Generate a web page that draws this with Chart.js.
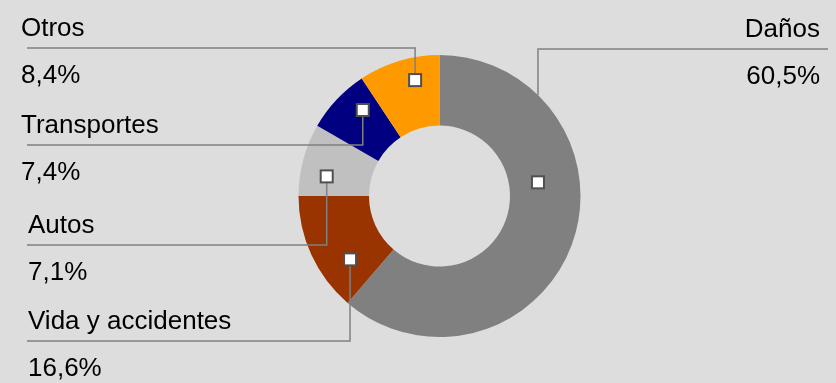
<!DOCTYPE html>
<html>
<head>
<meta charset="utf-8">
<script src="https://cdn.jsdelivr.net/npm/chart.js@4.4.1/dist/chart.umd.min.js"></script>
<style>
  html, body { margin: 0; padding: 0; background: #dddddd; }
  #wrap { width: 836px; height: 383px; }
</style>
</head>
<body>
<div id="wrap"><canvas id="ramosChart" width="836" height="383"></canvas></div>
<script>
// slice order: clockwise from 12 o'clock
const categories = ['Daños', 'Vida y accidentes', 'Autos', 'Transportes', 'Otros'];
// shares as drawn in the picture (measured from slice angles)
const shares = [61.3, 13.7, 8.3, 7.4, 9.3];
// percentages as printed next to each category
const shareLabels = ['60,5%', '16,6%', '7,1%', '7,4%', '8,4%'];
const colors = ['#808080', '#993300', '#c0c0c0', '#000080', '#ff9900'];

// callout layout: where the marker sits inside its slice, and where the label goes
const callouts = [
  { angle: 0.372, radius: 0.41,  lineY: 49,  side: 'right', textX: 820, toEdge: true },
  { angle: 0.284, radius: 0.555, lineY: 341, side: 'left',  textX: 28 },
  { angle: 0.33,  radius: 0.624, lineY: 245, side: 'left',  textX: 28 },
  { angle: 0.69,  radius: 0.635, lineY: 145, side: 'left',  textX: 21 },
  { angle: 0.645, radius: 0.68,  lineY: 48,  side: 'left',  textX: 21 }
];

const calloutPlugin = {
  id: 'callouts',
  afterDraw(chart) {
    const ctx = chart.ctx;
    const arcs = chart.getDatasetMeta(0).data;
    ctx.save();
    arcs.forEach((arc, i) => {
      const c = callouts[i];
      const p = arc.getProps(['x', 'y', 'startAngle', 'endAngle', 'innerRadius', 'outerRadius'], true);
      const a = p.startAngle + (p.endAngle - p.startAngle) * c.angle;
      const r = p.innerRadius + (p.outerRadius - p.innerRadius) * c.radius;
      const mx = p.x + Math.cos(a) * r;
      const my = p.y + Math.sin(a) * r;

      // leader line
      let vy = my;
      if (c.toEdge) {
        const dx = mx - p.x;
        const h = Math.sqrt(Math.max(0, p.outerRadius * p.outerRadius - dx * dx));
        vy = c.lineY < p.y ? p.y - h : p.y + h;
      }
      ctx.strokeStyle = '#808080';
      ctx.lineWidth = 1.5;
      ctx.beginPath();
      ctx.moveTo(mx, vy);
      ctx.lineTo(mx, c.lineY);
      if (c.side === 'left') ctx.lineTo(27, c.lineY);
      else ctx.lineTo(828, c.lineY);
      ctx.stroke();

      // marker
      ctx.fillStyle = '#ffffff';
      ctx.strokeStyle = '#505050';
      ctx.lineWidth = 2;
      ctx.fillRect(mx - 6, my - 6, 12, 12);
      ctx.strokeRect(mx - 6, my - 6, 12, 12);

      // texts
      ctx.fillStyle = '#000000';
      ctx.font = '26px "Liberation Sans", Arial, sans-serif';
      ctx.textAlign = c.side === 'left' ? 'left' : 'right';
      ctx.textBaseline = 'alphabetic';
      ctx.fillText(categories[i], c.textX, c.lineY - 12);
      ctx.fillText(shareLabels[i], c.textX, c.lineY + 35);
    });
    ctx.restore();
  }
};

const ctx = document.getElementById('ramosChart').getContext('2d');
const ramosChart = new Chart(ctx, {
  type: 'doughnut',
  data: {
    labels: categories,
    datasets: [{
      data: shares,
      backgroundColor: colors,
      borderWidth: 0
    }]
  },
  options: {
    responsive: false,
    animation: false,
    cutout: '50%',
    layout: {
      padding: { top: 55, bottom: 46, left: 150, right: 107 }
    },
    plugins: {
      legend: { display: false },
      tooltip: { enabled: false }
    }
  },
  plugins: [calloutPlugin]
});
</script>
</body>
</html>
